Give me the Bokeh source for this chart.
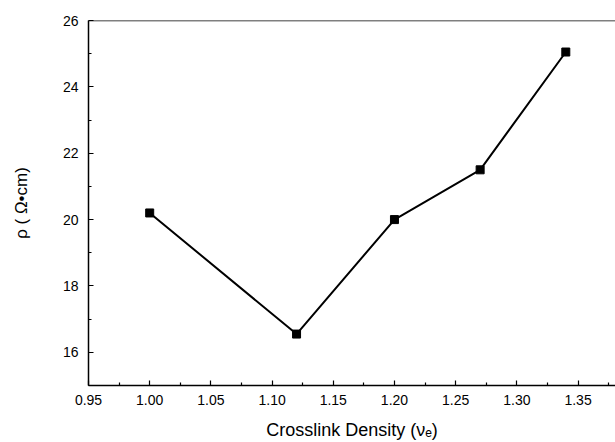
from bokeh.plotting import figure
from bokeh.models import FixedTicker, Range1d, Span
from bokeh.embed import file_html
from bokeh.resources import INLINE

crosslink_density = [1.00, 1.12, 1.20, 1.27, 1.34]
resistivity = [20.2, 16.55, 20.0, 21.5, 25.05]

x_ticks = [0.95, 1.00, 1.05, 1.10, 1.15, 1.20, 1.25, 1.30, 1.35]
x_minor = [0.975, 1.025, 1.075, 1.125, 1.175, 1.225, 1.275, 1.325, 1.375]
y_ticks = [16, 18, 20, 22, 24, 26]
y_minor = [15, 17, 19, 21, 23, 25]

FONT = "Liberation Sans"

p = figure(width=615, height=442, output_backend="svg", toolbar_location=None,
           x_range=Range1d(0.95, 1.3806), y_range=Range1d(15, 26))
p.min_border_left = 88
p.min_border_top = 20
p.min_border_bottom = 57
p.min_border_right = 0
p.outline_line_color = None
p.grid.visible = False
p.background_fill_color = "white"
p.border_fill_color = "white"

p.add_layout(Span(location=26, dimension="width", line_color="black", line_width=1.5))

p.line(crosslink_density, resistivity, line_color="black", line_width=2)
p.scatter(crosslink_density, resistivity, marker="square", size=8,
          fill_color="black", line_color="black")

p.xaxis.ticker = FixedTicker(ticks=x_ticks, minor_ticks=x_minor)
p.yaxis.ticker = FixedTicker(ticks=y_ticks, minor_ticks=y_minor)
p.xaxis.major_label_overrides = {t: f"{t:.2f}" for t in x_ticks}

for ax in (p.xaxis[0], p.yaxis[0]):
    ax.axis_line_width = 1.5
    ax.axis_line_color = "black"
    ax.major_tick_in = 5
    ax.major_tick_out = 0
    ax.minor_tick_in = 3
    ax.minor_tick_out = 0
    ax.major_tick_line_width = 1.2
    ax.minor_tick_line_width = 1.2
    ax.major_tick_line_color = "black"
    ax.minor_tick_line_color = "black"
    ax.major_label_text_font = FONT
    ax.major_label_text_font_size = "14px"
    ax.major_label_text_color = "black"
    ax.axis_label_text_font = FONT
    ax.axis_label_text_font_style = "normal"
    ax.axis_label_text_color = "black"

p.xaxis.axis_label = "Crosslink Density (\u03bd\u2091)"
p.yaxis.axis_label = "\u03c1 ( \u03a9\u2022cm)"
p.xaxis.axis_label_text_font_size = "18px"
p.yaxis.axis_label_text_font_size = "17px"
p.xaxis.major_label_standoff = 9
p.yaxis.major_label_standoff = 10
p.xaxis.axis_label_standoff = 12
p.yaxis.axis_label_standoff = 29

open("out.html", "w").write(file_html(p, INLINE))
